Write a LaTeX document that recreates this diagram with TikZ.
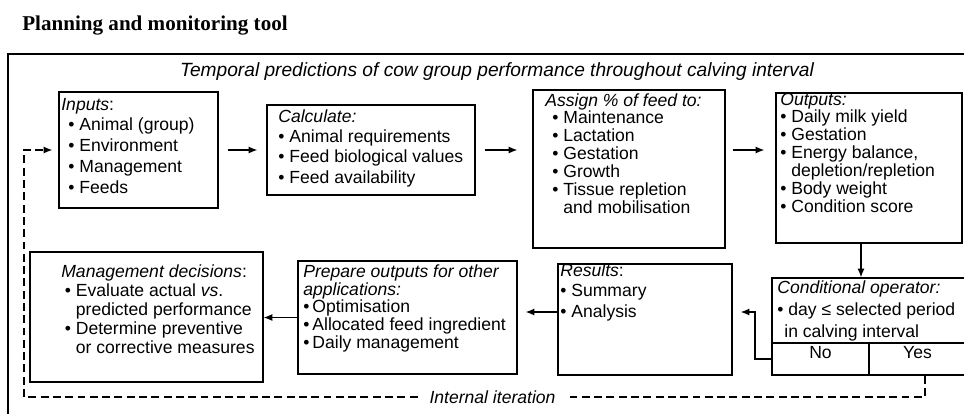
\documentclass[tikz,border=0pt]{standalone}
\usepackage{fontspec}
\setmainfont{Liberation Serif}
\setsansfont{Liberation Sans}
\usetikzlibrary{arrows.meta, fit, calc}

\newcommand{\bul}{\textbullet\ }
\newcommand{\hang}{\hphantom{\textbullet\ }}

\begin{document}
\begin{tikzpicture}[x=0.02cm, y=-0.02cm,
    box/.style={draw, line width=0.7pt, inner sep=0pt},
    txt/.style={anchor=base west, align=left, inner sep=0pt, font=\sffamily\fontsize{10}{#1}\selectfont},
    arr/.style={line width=0.7pt, -{Latex[length=5pt,width=4pt]}},
    iter/.style={line width=0.7pt, dash pattern=on 4.5pt off 2.5pt}]
        \useasboundingbox (0,0) rectangle (964,413);
        \draw[line width=0.9pt] (8,54) rectangle (990,440);

        \node[anchor=base west, inner sep=0pt, font=\rmfamily\bfseries\fontsize{12}{14}\selectfont] (title) at (22,30) {Planning and monitoring tool};
        \node[anchor=base, inner sep=0pt, font=\sffamily\itshape\fontsize{10.9}{13}\selectfont] (heading) at (497,76) {Temporal predictions of cow group performance throughout calving interval};

        % boxes
        \node[box, fit={(59,92) (218,208)}] (inputs) {};
        \node[box, fit={(267,105) (475,195)}] (calc) {};
        \node[box, fit={(533,90) (725,248)}] (assign) {};
        \node[box, fit={(776,93) (962,243)}] (outputs) {};
        \node[box, fit={(772,278) (966,375)}] (cond) {};
        \node[box, fit={(772,343) (869,375)}, font=\sffamily\fontsize{10}{12}\selectfont] (no) {No};
        \node[box, fit={(869,343) (966,375)}, font=\sffamily\fontsize{10}{12}\selectfont] (yes) {Yes};
        \node[box, fit={(558,264) (732,375)}] (results) {};
        \node[box, fit={(298,261) (517,374)}] (prepare) {};
        \node[box, fit={(30,252) (263,382)}] (mgmt) {};

        % texts (placed by the baseline of their last line)
        \node[txt=11.8pt] (inputstxt) at (61,193) {\textit{Inputs}:\\
            \hspace*{4pt}\bul Animal (group)\\ \hspace*{4pt}\bul Environment\\
            \hspace*{4pt}\bul Management\\ \hspace*{4pt}\bul Feeds};
        \node[txt=11.4pt] (calctxt) at (278,183) {\textit{Calculate:}\\
            \bul Animal requirements\\ \bul Feed biological values\\ \bul Feed availability};
        \node[txt=10.15pt] (assigntxt) at (545,213) {\textit{Assign \% of feed to:}\\
            \hspace*{4pt}\bul Maintenance\\ \hspace*{4pt}\bul Lactation\\
            \hspace*{4pt}\bul Gestation\\ \hspace*{4pt}\bul Growth\\
            \hspace*{4pt}\bul Tissue repletion\\ \hspace*{4pt}\hang and mobilisation};
        \node[txt=10.15pt] (outputstxt) at (780,212) {\textit{Outputs:}\\
            \bul Daily milk yield\\ \bul Gestation\\ \bul Energy balance,\\
            \hang depletion/repletion\\ \bul Body weight\\ \bul Condition score};
        \node[txt=12.5pt] (condtxt) at (777,337) {\textit{Conditional operator:}\\
            \bul day ≤ selected period\\ \hspace*{4pt}in calving interval};
        \node[txt=11.4pt] (resultstxt) at (560,317) {\textit{Results}:\\
            \bul Summary\\ \bul Analysis};
        \node[txt=10pt] (preparetxt) at (303,348) {\textit{Prepare outputs for other}\\
            \textit{applications:}\\ \textbullet\,Optimisation\\
            \textbullet\,Allocated feed ingredient\\ \textbullet\,Daily management};
        \node[txt=10.7pt] (mgmttxt) at (61,353) {\textit{Management decisions}:\\
            \hspace*{2pt}\bul Evaluate actual \textit{vs}.\\ \hspace*{2pt}\hang predicted performance\\
            \hspace*{2pt}\bul Determine preventive\\ \hspace*{2pt}\hang or corrective measures};

        % connectors
        \draw[arr, shorten <=0.18cm, shorten >=0.18cm] (inputs.east |- calc.west) -- (calc.west);
        \draw[arr, shorten <=0.18cm, shorten >=0.3cm] (calc.east) -- (calc.east -| assign.west);
        \draw[arr, shorten <=0.14cm, shorten >=0.22cm] (assign.east |- calc.east) -- (outputs.west |- calc.east);
        \draw[arr] ([xshift=-0.16cm]outputs.south) -- ([xshift=-0.16cm]outputs.south |- cond.north);
        \coordinate (nobend) at (755,312);
        \draw[arr, shorten >=0.16cm] (no.west) -| (nobend) -- (results.east |- nobend);
        \draw[arr, shorten >=0.16cm] (results.west |- nobend) -- (prepare.east |- nobend);
        \draw[arr] (prepare.west) -- (prepare.west -| mgmt.east);

        \coordinate (yesdrop) at (925,397);
        \coordinate (loopturn) at (24,397);
        \draw[iter, -{Latex[length=5pt,width=4pt]}, shorten >=0.12cm] (yes.south -| yesdrop) -- (yesdrop)
            -- node[pos=0.48, fill=white, inner xsep=0.24cm, inner ysep=1pt, font=\sffamily\itshape\fontsize{10}{12}\selectfont] (iterlabel) {Internal iteration}
            (loopturn) |- (inputs.west);
    \end{tikzpicture}
\end{document}
